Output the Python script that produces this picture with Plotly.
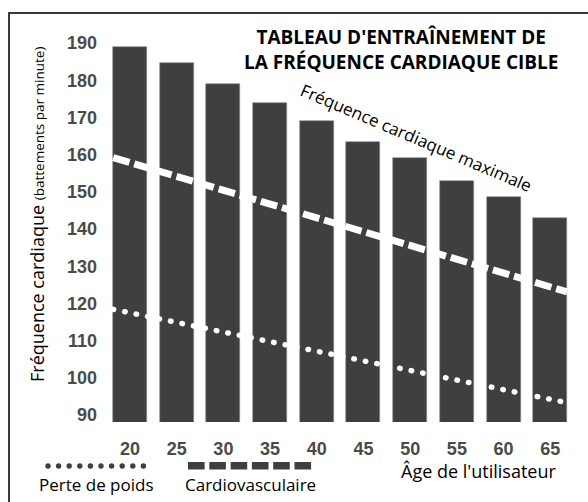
import plotly.graph_objects as go

# ---- data ----
ages = [20, 25, 30, 35, 40, 45, 50, 55, 60, 65]
max_heart_rate = [189, 184.5, 179, 174, 169, 163.5, 159, 153, 148.5, 143]
y_ticks = [90, 100, 110, 120, 130, 140, 150, 160, 170, 180, 190]
x_ticks = ages

# target lines (values at the left edge of the first bar and right edge of the last bar)
line_ages = [18.2, 66.8]
cardio_zone = [159.2, 123.1]
weight_loss_zone = [118.4, 93.3]

title_text = "TABLEAU D'ENTRAÎNEMENT DE<br>LA FRÉQUENCE CARDIAQUE CIBLE"
max_label = "Fréquence cardiaque maximale"
y_title = "Fréquence cardiaque <span style='font-size:13.5px'>(battements par minute)</span>"
x_title = "Âge de l'utilisateur"
legend_weight = "Perte de poids"
legend_cardio = "Cardiovasculaire"

# ---- layout geometry ----
W, H = 588, 502
L, R, T, B = 100, 8, 30, 80
PW, PH = W - L - R, H - T - B


def px(x):
    return (x - L) / PW


def py(y):
    return (H - B - y) / PH


BAR = "#3f3f41"
TXT = "#000000"
TICK = "#4a4a4a"

fig = go.Figure()
fig.add_trace(go.Bar(
    x=ages, y=max_heart_rate, width=3.64,
    marker=dict(color=BAR, line=dict(color="#8a8a8a", width=0.6)),
    hoverinfo="x+y", showlegend=False,
))
fig.add_trace(go.Scatter(
    x=line_ages, y=cardio_zone, mode="lines",
    line=dict(color="white", width=7, dash="17px,5px"),
    showlegend=False, hoverinfo="skip",
))
fig.add_trace(go.Scatter(
    x=line_ages, y=weight_loss_zone, mode="lines",
    line=dict(color="white", width=5.5, dash="0.5px,11.2px"),
    showlegend=False, hoverinfo="skip",
))

annotations = [
    dict(text=title_text, x=px(401), y=py(49.5), xref="paper", yref="paper",
         showarrow=False, xanchor="center", yanchor="middle",
         font=dict(family="Open Sans", size=19, color=TXT, weight=700)),
    dict(text=max_label, x=px(416), y=py(137), xref="paper", yref="paper",
         showarrow=False, xanchor="center", yanchor="middle", textangle=23,
         font=dict(family="Open Sans", size=17, color=TXT)),
    dict(text=y_title, x=px(37), y=py(215), xref="paper", yref="paper",
         showarrow=False, xanchor="center", yanchor="middle", textangle=-90,
         font=dict(family="Open Sans", size=18, color=TXT)),
    dict(text=x_title, x=px(478), y=py(471), xref="paper", yref="paper",
         showarrow=False, xanchor="center", yanchor="middle",
         font=dict(family="Open Sans", size=18, color=TXT)),
    dict(text=legend_weight, x=px(96), y=py(484), xref="paper", yref="paper",
         showarrow=False, xanchor="center", yanchor="middle",
         font=dict(family="Open Sans", size=17, color=TXT)),
    dict(text=legend_cardio, x=px(250), y=py(484), xref="paper", yref="paper",
         showarrow=False, xanchor="center", yanchor="middle",
         font=dict(family="Open Sans", size=17, color=TXT)),
]

shapes = [
    # outer frame (only the top and left edges fall inside the picture)
    dict(type="line", xref="paper", yref="paper",
         x0=px(8), x1=px(600), y0=py(13), y1=py(13),
         line=dict(color="#3a3a3a", width=2)),
    dict(type="line", xref="paper", yref="paper",
         x0=px(9), x1=px(9), y0=py(12), y1=py(520),
         line=dict(color="#3a3a3a", width=2)),
]
# legend swatches
for i in range(10):
    cx = 48 + i * 10.6
    shapes.append(dict(type="circle", xref="paper", yref="paper",
                       x0=px(cx - 2.7), x1=px(cx + 2.7), y0=py(466 + 2.7), y1=py(466 - 2.7),
                       fillcolor="#3f3f41", line=dict(width=0)))
for i in range(6):
    x0 = 188 + i * 21.3
    shapes.append(dict(type="rect", xref="paper", yref="paper",
                       x0=px(x0), x1=px(x0 + 16.6), y0=py(469.5), y1=py(462),
                       fillcolor="#3f3f41", line=dict(width=0)))

fig.update_layout(
    width=W, height=H,
    margin=dict(l=L, r=R, t=T, b=B),
    paper_bgcolor="white", plot_bgcolor="white",
    bargap=0,
    xaxis=dict(range=[16.79, 68.18], tickmode="array", tickvals=x_ticks,
               showgrid=False, zeroline=False, showline=False, ticks="",
               ticklabelstandoff=14,
               tickfont=dict(family="Liberation Sans", size=18, color=TICK, weight=700)),
    yaxis=dict(range=[88.12, 193.5], tickmode="array", tickvals=y_ticks,
               showgrid=False, zeroline=False, showline=False, ticks="",
               ticklabelstandoff=2,
               tickfont=dict(family="Liberation Sans", size=18, color=TICK, weight=700)),
    annotations=annotations,
    shapes=shapes,
)

post = """
document.body.style.margin = '0';
document.body.style.padding = '0';
var gd = document.getElementById('{plot_id}');
function fx(){
  var tr = gd.querySelectorAll('.scatterlayer .trace');
  if (tr.length > 1) {
    var p = tr[1].querySelector('path.js-line');
    if (p) { p.style.strokeLinecap = 'round'; }
  }
}
fx();
gd.on('plotly_afterplot', fx);
"""

fig.write_html("out.html", post_script=post, config={"displayModeBar": False})
